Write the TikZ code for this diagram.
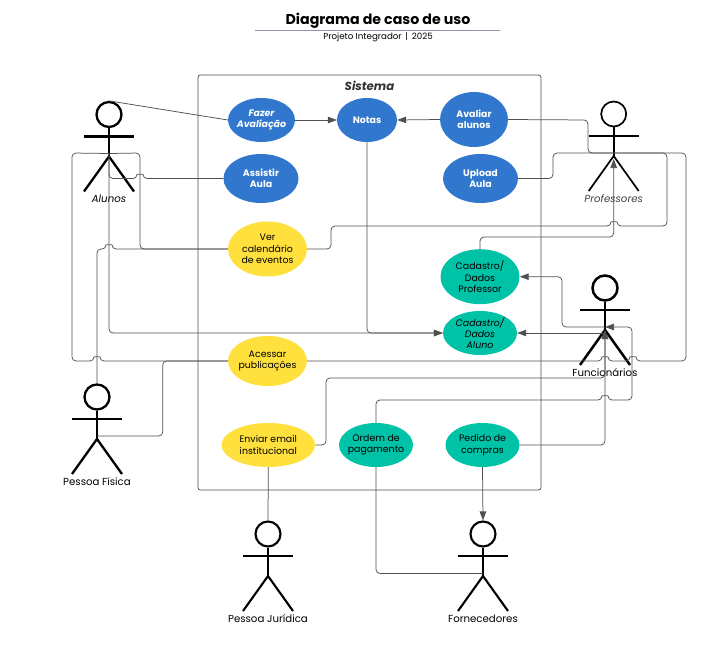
\documentclass[tikz,border=0pt]{standalone}
\usepackage{fontspec}
\setmainfont{Poppins}
\usetikzlibrary{shapes.geometric,arrows.meta}
\definecolor{ublue}{HTML}{3277CE}
\definecolor{uyellow}{HTML}{FFE03D}
\definecolor{uteal}{HTML}{00C2A6}
\definecolor{ugray}{HTML}{505050}
\definecolor{urule}{HTML}{8F93AE}
\newcommand{\jr}[2]{-- (#1-3,#2) .. controls (#1-3,#2-4.5) and (#1+3,#2-4.5) .. (#1+3,#2)}
\newcommand{\jl}[2]{-- (#1+3,#2) .. controls (#1+3,#2-4.5) and (#1-3,#2-4.5) .. (#1-3,#2)}
\newcommand{\stickfig}[5]{% name, x, head y, line width, label
  \node[circle,draw=black,line width=#4,minimum size=25pt,inner sep=0pt] (#1) at (#2,#3) {};
  \coordinate (#1-w) at (#2,#3+39);
  \coordinate (#1-h) at (#2,#3+42);
  \draw[line width=#4] (#1.south) -- (#1-h);
  \draw[line width=#4] (#2-25,#3+22) -- (#2+25,#3+22);
  \draw[line width=#4] (#2-25,#3+77) -- (#1-h) -- (#2+25,#3+77);
  \node[actorlabel] (#1-l) at (#2,#3+84.5) {#5};
}
\tikzset{
  uc/.style={ellipse,inner xsep=-9pt,inner ysep=-4pt,align=center,font=\fontsize{9.4}{11.3}\selectfont,text=black},
  ucb/.style={uc,fill=ublue,text=white,font=\fontsize{9.4}{11.3}\selectfont\bfseries},
  ucy/.style={uc,fill=uyellow},
  uct/.style={uc,fill=uteal},
  actorlabel/.style={font=\fontsize{10.2}{12}\selectfont,text=black},
  conn/.style={draw=ugray,line width=0.75pt,rounded corners=4pt},
  arr/.style={conn,-{Triangle[length=9pt,width=6.5pt]},color=ugray}
}
\begin{document}
\begin{tikzpicture}[x=1pt,y=-1pt]
\useasboundingbox (0,0) rectangle (721,648);
% titles
\node[font=\fontsize{14.2}{16}\selectfont\bfseries] (title) at (378,21) {Diagrama de caso de uso};
\draw[draw=urule,line width=0.7pt] (255,30.3) coordinate (ruleA) -- (500,30.3) coordinate (ruleB);
\node[font=\fontsize{8.7}{10}\selectfont] (sub) at (378,37.2) {Projeto Integrador \,|\, 2025};
% system
\node[draw=ugray,line width=0.8pt,rounded corners=2.5pt,minimum width=343pt,minimum height=415pt,inner sep=0pt] (sys) at (369.5,282.5) {};
\node[font=\fontsize{11.7}{13}\selectfont\bfseries\itshape,text=black!80] (sysl) at (369.5,86) {Sistema};
% use cases
\node[ucb,minimum width=67pt,minimum height=44pt,font=\fontsize{9.4}{11.3}\selectfont\bfseries\itshape] (fazer) at (261.5,120) {Fazer\\Avaliação};
\node[ucb,minimum width=60pt,minimum height=44pt] (notas) at (367,120) {Notas};
\node[ucb,minimum width=68pt,minimum height=55pt] (avaliar) at (474,119.5) {Avaliar\\alunos};
\node[ucb,minimum width=75pt,minimum height=49pt] (assistir) at (261,178.5) {Assistir\\Aula};
\node[ucb,minimum width=75pt,minimum height=49pt] (upload) at (480.5,178.5) {Upload\\Aula};
\node[ucy,minimum width=79pt,minimum height=55pt] (ver) at (267.5,249) {Ver\\calendário\\de eventos};
\node[ucy,minimum width=79pt,minimum height=50pt] (acessar) at (267.5,361) {Acessar\\publicações};
\node[ucy,minimum width=93.5pt,minimum height=44pt] (enviar) at (268.3,445) {Enviar email\\institucional};
\node[uct,minimum width=79pt,minimum height=55pt] (cprof) at (480,276.7) {Cadastro/\\Dados\\Professor};
\node[uct,minimum width=74pt,minimum height=44pt,font=\fontsize{9.4}{11.3}\selectfont\itshape] (caluno) at (480,333) {Cadastro/\\Dados\\Aluno};
\node[uct,minimum width=74pt,minimum height=44pt] (ordem) at (376,445) {Ordem de\\pagamento};
\node[uct,minimum width=74pt,minimum height=44pt] (pedido) at (482.5,445) {Pedido de\\compras};
% actors
\stickfig{alunos}{109}{114.5}{2.3pt}{\itshape Alunos}
\stickfig{prof}{613.7}{114}{1.7pt}{\itshape\color{black!75}Professores}
\stickfig{func}{605}{288}{2.5pt}{Funcionários}
\stickfig{fisica}{97}{397}{2.3pt}{Pessoa Física}
\stickfig{jur}{268}{534}{2.1pt}{Pessoa Jurídica}
\stickfig{forn}{483}{534}{2.1pt}{Fornecedores}
% connectors
\draw[conn] (alunos.north) -- (fazer.west);
\draw[arr] (fazer.east) -- (notas.west);
\draw[arr] (avaliar.west) -- (notas.east);
\draw[conn] (alunos-w) -- (109,178.5) \jr{140}{178.5} -- (assistir.west);
\draw[conn] (alunos-w) -- (140,153) -- (140,249) -- (ver.west);
\draw[conn] (alunos-w) -- (72,153) -- (72,361) \jr{97}{361} -- (acessar.west);
\draw[arr] (alunos-w) -- (109,333) -- (caluno.west);
\draw[arr] (notas.south) -- (367,333) -- (caluno.west);
\draw[conn] (fisica.north) -- (97,249) \jr{109}{249} -- (ver.west);
\draw[conn] (fisica-w) -- (162.7,436) -- (162.7,361) -- (acessar.west);
\draw[conn] (prof-w) -- (667,153) -- (667,226) \jl{614}{226} -- (331,226) -- (331,249) -- (ver.east);
\draw[conn] (prof-w) -- (686,153) -- (686,361) \jl{633}{361} \jl{605}{361} -- (acessar.east);
\draw[conn] (avaliar.east) -- (588,120) -- (588,153) -- (prof-w);
\draw[conn] (upload.east) -- (553,178.5) -- (553,153) -- (prof-w);
\draw[arr] (cprof.north) -- (480,237) -- (613.7,237) -- (613.7,159);
\draw[arr] (func-w) -- (562,327) -- (562,276.7) -- (cprof.east);
\draw[arr] (605,333) -- (caluno.east);
\draw[arr] (enviar.east) -- (326,445) -- (326,378) -- (605,378) -- (func-h);
\draw[arr] (pedido.east) -- (605,445) -- (func-h);
\draw[arr] (ordem.north) -- (376,400) \jr{605}{400} -- (632,400) -- (632,327) -- (func-w);
\draw[conn] (ordem.south) -- (376,573.5) -- (483,573.5);
\draw[arr] (pedido.south) -- (forn.north);
\draw[conn] (enviar.south) -- (jur.north);
\end{tikzpicture}
\end{document}
